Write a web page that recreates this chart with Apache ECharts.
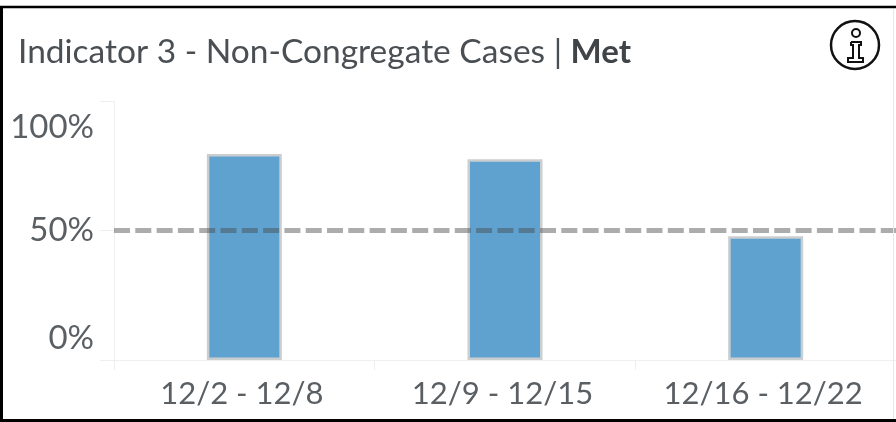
<!DOCTYPE html>
<html><head><meta charset="utf-8">
<script src="https://cdn.jsdelivr.net/npm/echarts@6/dist/echarts.min.js"></script>
<style>html,body{margin:0;padding:0;background:#fff;overflow:hidden}#c{width:896px;height:422px}</style>
</head><body><div id="c"></div>
<script>
const categories = ['12/2 - 12/8', '12/9 - 12/15', '12/16 - 12/22'];
const values = [79.5, 77.5, 47.8];
const targetValue = 50;
const yTicks = [0, 50, 100];
const titleLead = 'Indicator 3 - Non-Congregate Cases | ';
const titleStatus = 'Met';
const chart = echarts.init(document.getElementById('c'), null, {renderer:'canvas'});
const txt = '#5a5f64', font = 'Lato';
chart.setOption({
  animation:false,
  backgroundColor:'#fff',
  title:{left:18,top:35,padding:0,text:'{a|'+titleLead+'}{b|'+titleStatus+'}',
    textStyle:{fontWeight:'normal',rich:{a:{fontFamily:font,fontSize:33.5,fontWeight:'normal',color:'#4a4f54'},b:{fontFamily:font,fontSize:33,fontWeight:'bold',color:'#3f4449'}}}},
  grid:{left:114,right:0,top:101,bottom:62},
  xAxis:{type:'category',data:categories,
    axisLine:{lineStyle:{color:'#f0f0f0',width:1}},
    axisTick:{show:true,length:10,lineStyle:{color:'#eeeeee'}},
    axisLabel:{fontFamily:font,fontSize:31,color:txt,margin:18,hideOverlap:false,interval:0,padding:[0,5,0,0]}},
  yAxis:{type:'value',min:yTicks[0],max:yTicks[2],interval:50,
    axisLine:{show:true,lineStyle:{color:'#f0f0f0',width:1}},
    axisTick:{show:true,length:14,lineStyle:{color:'#eeeeee'}},
    splitLine:{show:false},
    axisLabel:{fontFamily:font,fontSize:33,color:txt,margin:20,formatter:'{value}%',lineHeight:40,padding:[6,0,2,0],
      verticalAlignMaxLabel:'top',verticalAlignMinLabel:'bottom'}},
  series:[{type:'bar',data:values,barWidth:75,
    itemStyle:{color:'#5fa2cf',borderColor:'#cbced1',borderWidth:2.5},
    markLine:{silent:true,symbol:'none',label:{show:false},
      lineStyle:{color:'rgba(70,70,70,0.45)',type:[16,5.3],width:5},
      data:[{yAxis:targetValue}]}}],
  graphic:[
    {type:'line',shape:{x1:0,y1:7,x2:896,y2:7},style:{stroke:'#000',lineWidth:2.5},z:100},
    {type:'line',shape:{x1:1.5,y1:7,x2:1.5,y2:422},style:{stroke:'#000',lineWidth:3},z:100},
    {type:'line',shape:{x1:0,y1:420.5,x2:896,y2:420.5},style:{stroke:'#000',lineWidth:3},z:100},
    {type:'line',shape:{x1:893.5,y1:9,x2:893.5,y2:419},style:{stroke:'#e8e8e8',lineWidth:1},z:100},
    {type:'circle',shape:{cx:855,cy:45,r:24},style:{fill:'none',stroke:'#111',lineWidth:2.5},z:100},
    {type:'circle',shape:{cx:856,cy:33,r:4},style:{fill:'none',stroke:'#111',lineWidth:2},z:100},
    {type:'polyline',shape:{points:[[851,42],[861,42],[861,45],[859,45],[859,58],[863,58],[863,62],[848,62],[848,58],[853,58],[853,45],[851,45],[851,42]]},style:{fill:'none',stroke:'#111',lineWidth:2},z:100}
  ]
});
</script></body></html>
